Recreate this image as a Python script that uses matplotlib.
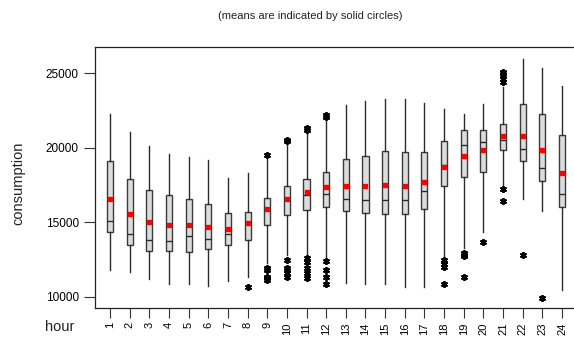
import matplotlib
matplotlib.use("Agg")
from matplotlib import pyplot as plt

plt.rcParams['font.family'] = ['Liberation Sans', 'DejaVu Sans']

hours = list(range(1, 25))
whisker_lo = [11790, 11680, 11160, 10830, 10830, 10740, 11070, 11300, 12240, 12800, 12800, 12690,
              10890, 10830, 10830, 10670, 10670, 12730, 13250, 14370, 17390, 16540, 15750, 10450]
q1 = [14320, 13470, 13090, 13090, 13000, 13220, 13470, 13830, 14790, 15510, 15800, 16020,
      15750, 15620, 15550, 15550, 15870, 17410, 18010, 18400, 19850, 19090, 17770, 16040]
medians = [15080, 14190, 13780, 13720, 14100, 13850, 14190, 14950, 15890, 16500, 16800, 16870,
           16560, 16470, 16470, 16470, 17070, 18870, 20160, 20410, 20500, 19940, 18640, 16870]
q3 = [19090, 17880, 17160, 16800, 16540, 16250, 15620, 15710, 16630, 17410, 17880, 18400,
      19250, 19470, 19780, 19690, 19690, 20480, 21170, 21170, 21620, 22940, 22250, 20840]
whisker_hi = [22270, 21040, 20120, 19580, 19360, 19180, 17950, 18280, 19300, 20300, 21080, 21870,
              22870, 23160, 23250, 23250, 23030, 22580, 22270, 22940, 24100, 25940, 25340, 24170]
means = [16540, 15570, 15040, 14810, 14810, 14700, 14540, 14950, 15890, 16540, 17010, 17340,
         17430, 17430, 17480, 17430, 17700, 18730, 19450, 19870, 20810, 20810, 19830, 18280]
outliers = [
    [], [], [], [], [], [], [],
    [10670],
    [19500, 11950, 11790, 11340, 11230, 11120],
    [20550, 20450, 12460, 11900, 11790, 11560, 11340],
    [21300, 21200, 12570, 12350, 11900, 11560, 11230],
    [22200, 22050, 12420, 11790, 11300, 10850],
    [], [], [], [], [],
    [12460, 12200, 12010, 10830],
    [12950, 12800, 12700, 11300],
    [13690],
    [25100, 24950, 24800, 24600, 24400, 17210, 16450],
    [12800],
    [9930],
    [],
]

stats = []
for i in range(len(hours)):
    stats.append({
        'whislo': whisker_lo[i], 'q1': q1[i], 'med': medians[i], 'q3': q3[i],
        'whishi': whisker_hi[i], 'mean': means[i], 'fliers': outliers[i],
    })

fig = plt.figure(figsize=(5.74, 3.37), dpi=100)
ax = fig.add_axes([0.165, 0.0852, 0.8408, 0.7745])

# asterisk-shaped fliers: 6 spokes
ax.bxp(
    stats, positions=hours, widths=0.31, patch_artist=True,
    showmeans=True, showcaps=False,
    boxprops=dict(facecolor='#dcdcdc', edgecolor='#3a3a3a', linewidth=1.0),
    medianprops=dict(color='#2a2a2a', linewidth=1.0),
    whiskerprops=dict(color='#2a2a2a', linewidth=1.0),
    meanprops=dict(marker='s', markerfacecolor='red', markeredgecolor='red', markersize=3),
    flierprops=dict(marker=(6, 2, 0), markerfacecolor='black', markeredgecolor='black',
                    markersize=5, markeredgewidth=1.3),
)

ax.set_xlim(0.22, 24.78)
ax.set_ylim(9221, 26746)
ax.set_yticks([10000, 15000, 20000, 25000])
ax.set_xticks(hours)
ax.set_xticklabels([str(h) for h in hours], rotation=90, fontsize=8)
ax.tick_params(axis='y', labelsize=8.5, length=8, width=0.8, color='#333333')
ax.tick_params(axis='x', length=7, width=0.8, color='#333333', pad=3)
for s in ax.spines.values():
    s.set_linewidth(0.9)
    s.set_color('#222222')

fig.text(18 / 574, 1 - 183 / 337, 'consumption', rotation=90, fontsize=10.5,
         ha='center', va='center', color='#222222')
fig.text(60 / 574, 1 - 327 / 337, 'hour', fontsize=10.5,
         ha='center', va='center', color='#222222')
fig.text(310 / 574, 1 - 16 / 337, '(means are indicated by solid circles)', fontsize=8,
         ha='center', va='center', color='#222222')

fig.savefig('out.png', dpi=100)
